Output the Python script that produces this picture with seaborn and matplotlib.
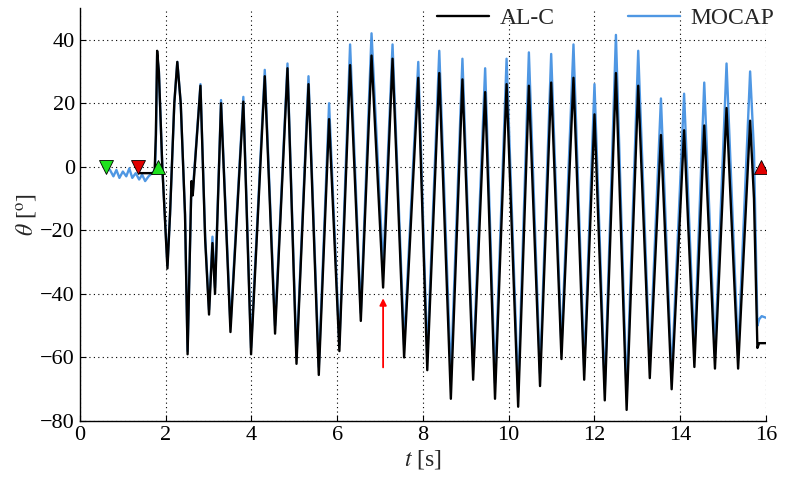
import matplotlib
matplotlib.use('Agg')
import matplotlib.pyplot as plt
import numpy as np
import pandas as pd
import seaborn as sns

# shared time stamps of the swing extrema (s)
t_osc = [1.77, 1.80, 1.84, 1.92, 2.04, 2.10, 2.20, 2.27, 2.35, 2.45,
         2.51, 2.60, 2.63, 2.81, 2.92, 3.01, 3.09, 3.15, 3.29, 3.51,
         3.81, 3.99, 4.31, 4.55, 4.84, 5.05, 5.33, 5.57, 5.81, 6.05,
         6.30, 6.55, 6.80, 7.07, 7.29, 7.56, 7.89, 8.10, 8.38, 8.65,
         8.92, 9.17, 9.45, 9.68, 9.95, 10.22, 10.47, 10.73, 10.99, 11.23,
         11.51, 11.76, 12.00, 12.24, 12.50, 12.75, 13.02, 13.29, 13.55, 13.80,
         14.09, 14.33, 14.56, 14.81, 15.08, 15.35, 15.63, 15.72, 15.80]

alc_osc = [10, 36.5, 30, 0, -32, -15, 20, 33, 20, -15,
           -59, -4.5, -9, 25.5, -23, -46.5, -24, -40, 20, -52,
           20.5, -59, 28.5, -52.5, 31, -62, 26, -65.5, 15, -58,
           32, -48.5, 35, -38, 34, -60, 28, -64, 29.5, -73,
           27.5, -67, 23.5, -73, 26, -75.5, 25.5, -69, 26.5, -60.5,
           28, -67, 16.5, -73.5, 29.5, -76.5, 25.5, -66.5, 10, -70,
           11.5, -63, 13, -63.5, 18.5, -63.5, 14.5, -10, -57]

mocap_osc = [8, 35, 30, 0, -31, -15, 20, 33, 20, -15,
             -58, -5, -8, 26, -22, -45, -22, -38, 21, -50,
             22, -57, 30.5, -50, 32.5, -60, 28.5, -63, 20, -56,
             38.5, -46, 42, -32, 38.5, -56, 33, -60, 36.5, -66,
             34, -63, 31, -68, 34, -71, 36, -65, 35.5, -57,
             38.5, -63, 26, -70, 41.5, -72, 36.5, -62, 21.5, -66,
             23, -58, 26.5, -59, 32.5, -59, 30, 5, -50]

# quiet phase before the swing and hold after it
alc_head_t = [1.38, 1.74]
alc_head = [-2, -2]
alc_tail_t = [15.84, 16.0]
alc_tail = [-55.5, -55.5]

mocap_head_t = [0.62, 0.70, 0.78, 0.85, 0.92, 1.00, 1.08, 1.15, 1.22, 1.30,
                1.38, 1.45, 1.52, 1.60, 1.68, 1.75]
mocap_head = [0, -1, -3, -1, -3.5, -1.5, -3, -0.5, -3.5, -2,
              -4, -2.5, -4.5, -3, -2, -1]
mocap_tail_t = [15.84, 15.90, 16.0]
mocap_tail = [-48, -47, -47.5]

# event markers (start / end of detection)
green_down_t = [0.61]
red_down_t = [1.35]
green_up_t = [1.82]
red_up_t = [15.88]
arrow_t = 7.07

df_alc = pd.DataFrame({'t': alc_head_t + t_osc + alc_tail_t,
                       'theta': alc_head + alc_osc + alc_tail})
df_mocap = pd.DataFrame({'t': mocap_head_t + t_osc + mocap_tail_t,
                         'theta': mocap_head + mocap_osc + mocap_tail})

sns.set_style('white')
plt.rcParams['font.family'] = ['Liberation Serif', 'DejaVu Serif']
plt.rcParams['mathtext.fontset'] = 'stix'

fig = plt.figure(figsize=(7.95, 4.93), dpi=100)
ax = fig.add_axes([0.1006, 0.146, 0.8629, 0.838])

sns.lineplot(data=df_mocap, x='t', y='theta', ax=ax, color='#4f97e3',
             lw=1.7, sort=False, estimator=None, label='MOCAP', zorder=3)
sns.lineplot(data=df_alc, x='t', y='theta', ax=ax, color='black',
             lw=1.7, sort=False, estimator=None, label='AL-C', zorder=4)

mk = dict(ls='none', ms=10.5, mec='black', mew=0.6, zorder=5)
ax.plot(green_down_t, [0], marker='v', mfc='#1ee01e', **mk)
ax.plot(red_down_t, [0], marker='v', mfc='#e00000', **mk)
ax.plot(green_up_t, [0], marker='^', mfc='#1ee01e', **mk)
ax.plot(red_up_t, [0], marker='^', mfc='#e00000', **mk)

ax.annotate('', xy=(arrow_t, -40.5), xytext=(arrow_t, -64),
            arrowprops=dict(arrowstyle='-|>', color='red', lw=1.3,
                            mutation_scale=10))

ax.set_xlim(0, 16)
ax.set_ylim(-80, 50)
ax.set_xticks(np.arange(0, 17, 2))
ax.set_yticks(np.arange(-80, 41, 20))
ax.grid(True, ls=(0, (1, 3)), color='black', lw=0.8)
for s in ['top', 'right']:
    ax.spines[s].set_visible(False)
for s in ['left', 'bottom']:
    ax.spines[s].set_color('black')
    ax.spines[s].set_linewidth(1.0)
ax.tick_params(direction='in', length=4, labelsize=16, colors='black',
               left=True, bottom=True)
ax.set_xlabel('$t$ [s]', fontsize=17, labelpad=2)
ax.set_ylabel(r'$\theta$ [$^{\rm o}$]', fontsize=17, labelpad=2)

h, l = ax.get_legend_handles_labels()
ax.legend(h[::-1], l[::-1], ncol=2, loc='upper right',
          bbox_to_anchor=(1.043, 1.052), frameon=False, fontsize=17,
          handlelength=2.2, handletextpad=0.45, columnspacing=3.1)

fig.savefig('out.png', dpi=100)
